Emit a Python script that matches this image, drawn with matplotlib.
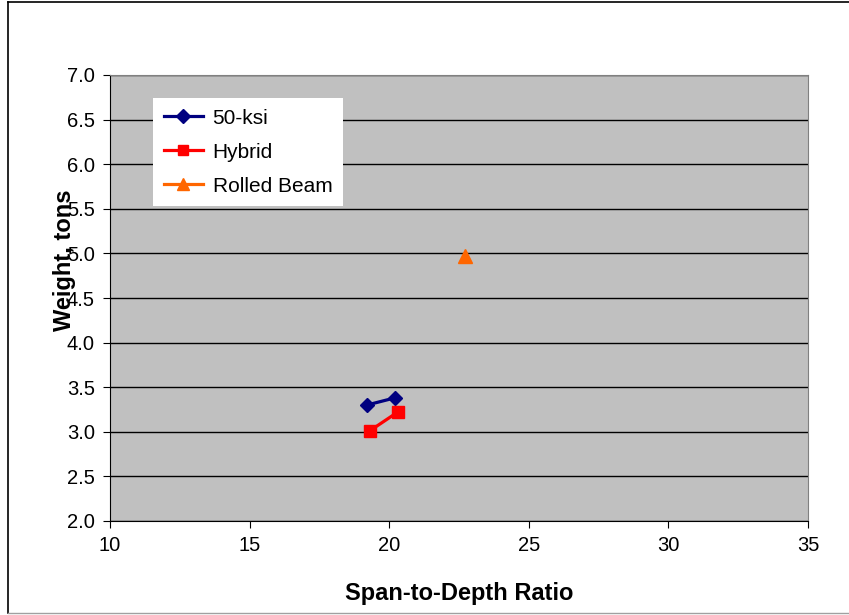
import matplotlib.pyplot as plt
from matplotlib.lines import Line2D

plt.rcParams['font.family'] = ['Liberation Sans', 'DejaVu Sans']

# span-to-depth ratio vs. girder weight
ksi50_x = [19.2, 20.2]
ksi50_y = [3.30, 3.38]
hybrid_x = [19.3, 20.3]
hybrid_y = [3.01, 3.22]
rolled_x = [22.7]
rolled_y = [4.97]

xticks = [10, 15, 20, 25, 30, 35]
yticks = [2.0, 2.5, 3.0, 3.5, 4.0, 4.5, 5.0, 5.5, 6.0, 6.5, 7.0]

fig = plt.figure(figsize=(8.49, 6.15), dpi=100)
ax = fig.add_axes([110 / 849, 94 / 615, 698 / 849, 446 / 615])
ax.set_facecolor('#C0C0C0')

ax.plot(ksi50_x, ksi50_y, color='#000080', lw=2.3, marker='D', ms=7.5,
        label='50-ksi')
ax.plot(hybrid_x, hybrid_y, color='#FF0000', lw=2.3, marker='s', ms=9,
        label='Hybrid')
ax.plot(rolled_x, rolled_y, color='#FF6600', lw=2.3, marker='^', ms=10,
        linestyle='none', label='Rolled Beam')

ax.set_xlim(10, 35)
ax.set_ylim(2.0, 7.0)
ax.set_xticks(xticks)
ax.set_yticks(yticks)
ax.set_yticklabels(['%.1f' % v for v in yticks])
ax.yaxis.grid(True, color='black', lw=1)
ax.set_axisbelow(True)
ax.tick_params(axis='both', direction='out', length=5, labelsize=14.5,
               color='black', pad=6)

for side in ('top', 'right'):
    ax.spines[side].set_color('#808080')
for side in ('left', 'bottom'):
    ax.spines[side].set_color('black')

ax.set_xlabel('Span-to-Depth Ratio', fontsize=17, fontweight='bold',
              labelpad=19)
ax.set_ylabel('Weight, tons', fontsize=17, fontweight='bold')
ax.yaxis.set_label_coords(-0.049, 0.585)

handles = [
    Line2D([], [], color='#000080', lw=2.3, marker='D', ms=7),
    Line2D([], [], color='#FF0000', lw=2.3, marker='s', ms=7),
    Line2D([], [], color='#FF6600', lw=2.3, marker='^', ms=9),
]
leg = ax.legend(handles, ['50-ksi', 'Hybrid', 'Rolled Beam'],
                loc='upper left', bbox_to_anchor=(0.062, 0.948),
                fontsize=15, frameon=True, fancybox=False, framealpha=1,
                edgecolor='white', borderpad=0.5, handlelength=1.9,
                handletextpad=0.45, labelspacing=0.72, borderaxespad=0)
leg.get_frame().set_linewidth(0)

# outer chart border
fig.add_artist(Line2D([8 / 849, 8 / 849], [2 / 615, 613 / 615],
                      color='black', lw=1.2, transform=fig.transFigure))
fig.add_artist(Line2D([8 / 849, 1], [613 / 615, 613 / 615],
                      color='black', lw=1.2, transform=fig.transFigure))
fig.add_artist(Line2D([8 / 849, 1], [2 / 615, 2 / 615],
                      color='#A0A0A0', lw=1, transform=fig.transFigure))

fig.savefig('out.png', dpi=100)
